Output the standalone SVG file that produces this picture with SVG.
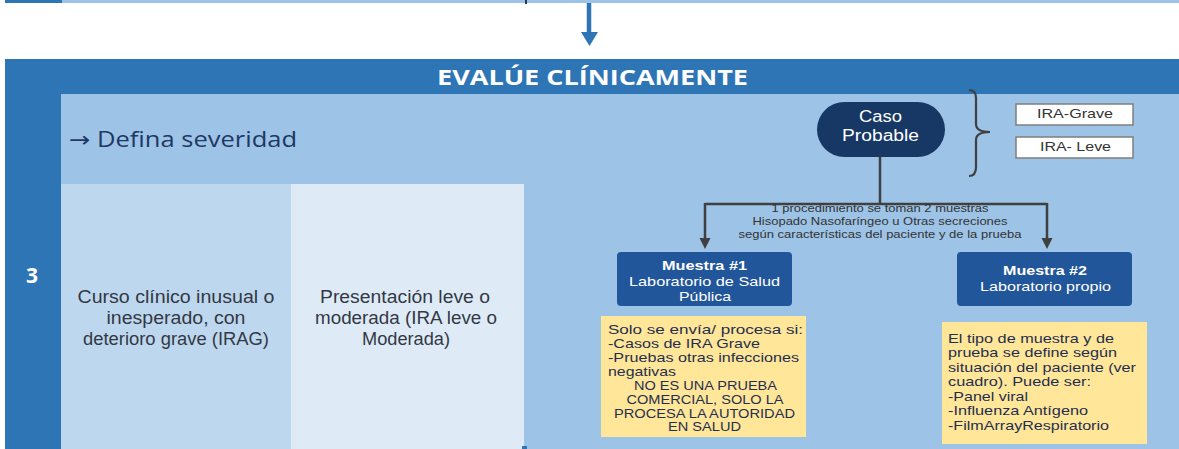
<svg xmlns="http://www.w3.org/2000/svg" width="1179" height="449" viewBox="0 0 1179 449">
<defs>
<style>
.sans{font-family:"Liberation Sans",Arial,sans-serif}
.hdr{font-family:"Open Sans","Liberation Sans",sans-serif;font-weight:bold;fill:#fff}
.cell{font-family:"Liberation Sans",Arial,sans-serif;font-size:17.5px;fill:#333844;text-anchor:middle}
.wt{fill:#fff;text-anchor:middle}
.note{font-family:"Liberation Sans",Arial,sans-serif;font-size:13px;fill:#1f2f4f}
.conn{stroke:#404040;stroke-width:2.5;fill:none}
.tag{fill:#fff;stroke:#7f7f7f;stroke-width:1.5}
</style>
</defs>
<rect width="1179" height="449" fill="#fff"/>
<g id="top-strip">
<rect x="5" y="0" width="57" height="3" fill="#2e75b6"/>
<rect x="62" y="0" width="1117" height="3" fill="#9dc3e6"/>
<rect x="525" y="0" width="2" height="4" fill="#1f3864"/>
</g>
<g id="header">
<rect x="5" y="59" width="1174" height="35" fill="#2e75b6"/>
<rect x="5" y="94" width="56" height="355" fill="#2e75b6"/>
<text class="hdr" x="437" y="85" font-size="22" textLength="311" lengthAdjust="spacingAndGlyphs">EVALÚE CLÍNICAMENTE</text>
<text class="hdr" x="32" y="283" font-size="21" text-anchor="middle">3</text>
</g>
<g id="body">
<rect x="61" y="94" width="1118" height="355" fill="#9dc3e6"/>
<rect x="61" y="184" width="230" height="265" fill="#bdd7ee"/>
<rect x="291" y="184" width="233" height="265" fill="#deebf7"/>
<rect x="522" y="446" width="5" height="3" fill="#2e75b6"/>
<text x="69" y="147" font-family="'Open Sans','Liberation Sans',sans-serif" font-size="21" fill="#1f3864" textLength="228" lengthAdjust="spacingAndGlyphs"><tspan font-family="'DejaVu Sans',sans-serif">→</tspan> Defina severidad</text>
</g>
<g id="cell-irag">
<text class="cell" x="176" y="303" textLength="197" lengthAdjust="spacingAndGlyphs">Curso clínico inusual o</text>
<text class="cell" x="176" y="324" textLength="139" lengthAdjust="spacingAndGlyphs">inesperado, con</text>
<text class="cell" x="176" y="345" textLength="186" lengthAdjust="spacingAndGlyphs">deterioro grave (IRAG)</text>
</g>
<g id="cell-leve">
<text class="cell" x="405" y="303" textLength="170" lengthAdjust="spacingAndGlyphs">Presentación leve o</text>
<text class="cell" x="406" y="324" textLength="182" lengthAdjust="spacingAndGlyphs">moderada (IRA leve o</text>
<text class="cell" x="406" y="345" textLength="88" lengthAdjust="spacingAndGlyphs">Moderada)</text>
</g>
<g id="connectors">
<path d="M589 3 V33" stroke="#2e75b6" stroke-width="4.5" fill="none"/>
<path d="M581 32 H598 L589.5 46 Z" fill="#2e75b6"/>
<path class="conn" d="M880 157 V204 M705 204 H1047 M705 203 V240 M1047 203 V240"/>
<path d="M699.5 238 H710.5 L705 249 Z" fill="#404040"/>
<path d="M1041.5 238 H1052.5 L1047 249 Z" fill="#404040"/>
<path d="M969 90 Q976 90 976 98 V124 Q976 132 990 132 Q976 132 976 140 V167 Q976 176 969 176" stroke="#404040" stroke-width="2.2" fill="none"/>
<g class="sans" font-size="11.5" fill="#333" text-anchor="middle">
<text x="880" y="212" textLength="217" lengthAdjust="spacingAndGlyphs">1 procedimiento se toman 2 muestras</text>
<text x="880" y="225" textLength="255" lengthAdjust="spacingAndGlyphs">Hisopado Nasofaríngeo u Otras secreciones</text>
<text x="880" y="238" textLength="283" lengthAdjust="spacingAndGlyphs">según características del paciente y de la prueba</text>
</g>
</g>
<g id="caso-probable">
<rect x="817" y="102" width="128" height="55" rx="27.5" fill="#173865"/>
<text class="sans wt" x="880.5" y="122" font-size="16" textLength="43" lengthAdjust="spacingAndGlyphs">Caso</text>
<text class="sans wt" x="880.5" y="141" font-size="16" textLength="77" lengthAdjust="spacingAndGlyphs">Probable</text>
</g>
<g id="ira-grave">
<rect class="tag" x="1016" y="104" width="117" height="21"/>
<text class="sans" x="1075" y="118" font-size="13.5" fill="#333" text-anchor="middle" textLength="76" lengthAdjust="spacingAndGlyphs">IRA-Grave</text>
</g>
<g id="ira-leve">
<rect class="tag" x="1016" y="137" width="117" height="21"/>
<text class="sans" x="1075.5" y="151" font-size="13.5" fill="#333" text-anchor="middle" textLength="71" lengthAdjust="spacingAndGlyphs">IRA- Leve</text>
</g>
<g id="muestra1">
<rect x="617" y="252" width="175" height="54" rx="4" fill="#22569a"/>
<text class="sans wt" x="704.5" y="270" font-size="13" font-weight="bold" textLength="85" lengthAdjust="spacingAndGlyphs">Muestra #1</text>
<text class="sans wt" x="704.5" y="286" font-size="13" textLength="151" lengthAdjust="spacingAndGlyphs">Laboratorio de Salud</text>
<text class="sans wt" x="705" y="301" font-size="13" textLength="52" lengthAdjust="spacingAndGlyphs">Pública</text>
</g>
<g id="muestra2">
<rect x="957" y="252" width="175" height="54" rx="4" fill="#22569a"/>
<text class="sans wt" x="1045" y="275" font-size="13" font-weight="bold" textLength="84" lengthAdjust="spacingAndGlyphs">Muestra #2</text>
<text class="sans wt" x="1045.5" y="291" font-size="13" textLength="131" lengthAdjust="spacingAndGlyphs">Laboratorio propio</text>
</g>
<g id="nota1">
<rect x="601" y="316" width="205" height="121" fill="#ffe699"/>
<text class="note" x="608" y="334" textLength="195" lengthAdjust="spacingAndGlyphs">Solo se envía/ procesa si:</text>
<text class="note" x="608" y="348" textLength="152" lengthAdjust="spacingAndGlyphs">-Casos de IRA Grave</text>
<text class="note" x="608" y="362" textLength="191" lengthAdjust="spacingAndGlyphs">-Pruebas otras infecciones</text>
<text class="note" x="608" y="376" textLength="68" lengthAdjust="spacingAndGlyphs">negativas</text>
<g class="note" font-size="11.5" text-anchor="middle">
<text x="705.5" y="390" textLength="143" lengthAdjust="spacingAndGlyphs">NO ES UNA PRUEBA</text>
<text x="705" y="404" textLength="157" lengthAdjust="spacingAndGlyphs">COMERCIAL, SOLO LA</text>
<text x="704.5" y="418" textLength="181" lengthAdjust="spacingAndGlyphs">PROCESA LA AUTORIDAD</text>
<text x="704.5" y="431" textLength="73" lengthAdjust="spacingAndGlyphs">EN SALUD</text>
</g>
</g>
<g id="nota2">
<rect x="942" y="322" width="205" height="122" fill="#ffe699"/>
<text class="note" x="948" y="343" textLength="166" lengthAdjust="spacingAndGlyphs">El tipo de muestra y de</text>
<text class="note" x="948" y="357" textLength="169" lengthAdjust="spacingAndGlyphs">prueba se define según</text>
<text class="note" x="948" y="372" textLength="188" lengthAdjust="spacingAndGlyphs">situación del paciente (ver</text>
<text class="note" x="948" y="386" textLength="143" lengthAdjust="spacingAndGlyphs">cuadro). Puede ser:</text>
<text class="note" x="948" y="401" textLength="80" lengthAdjust="spacingAndGlyphs">-Panel viral</text>
<text class="note" x="948" y="415" textLength="140" lengthAdjust="spacingAndGlyphs">-Influenza Antígeno</text>
<text class="note" x="948" y="430" textLength="161" lengthAdjust="spacingAndGlyphs">-FilmArrayRespiratorio</text>
</g>
</svg>
